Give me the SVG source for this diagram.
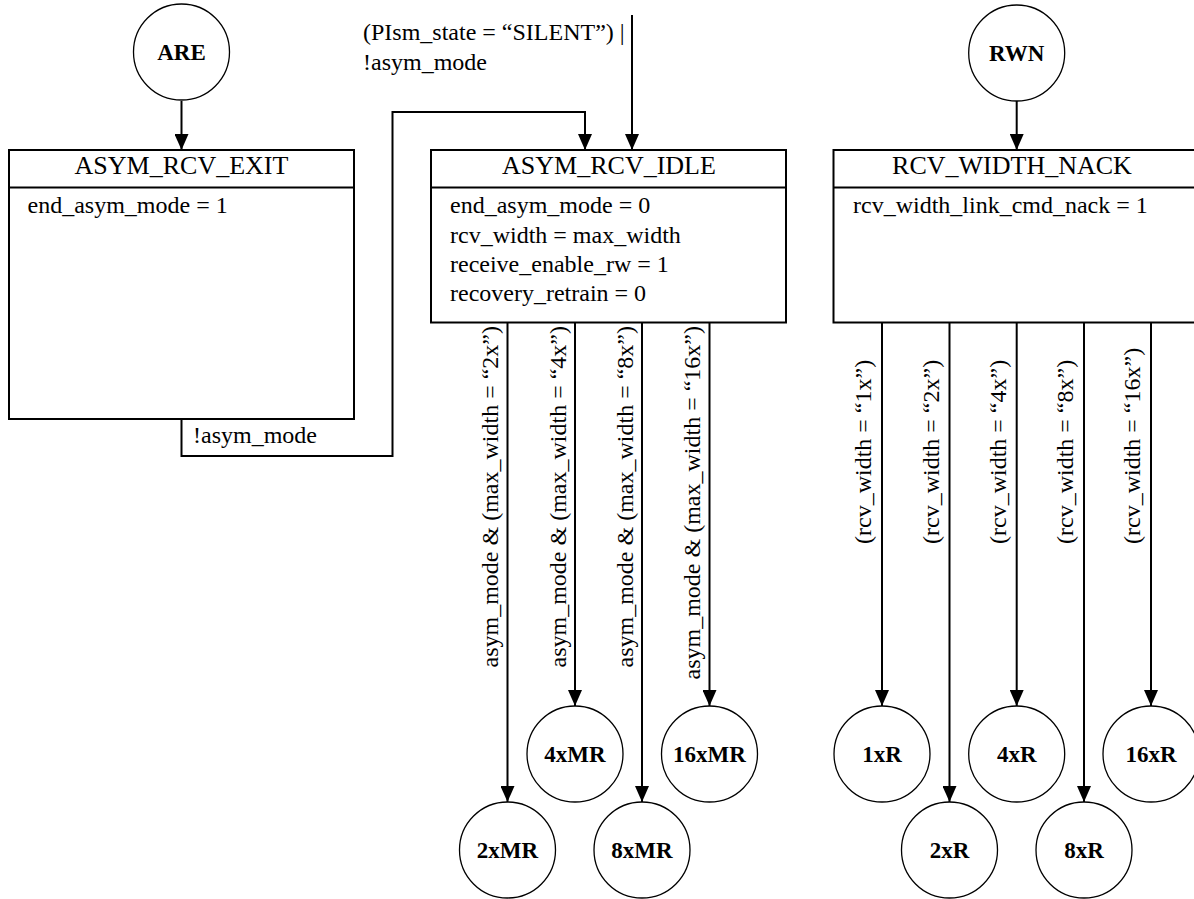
<svg xmlns="http://www.w3.org/2000/svg" width="1194" height="899" viewBox="0 0 1194 899">
  <style>
    .box { fill: #ffffff; stroke: #000000; stroke-width: 2; }
    .sep { stroke: #000000; stroke-width: 2; }
    .state { fill: #ffffff; stroke: #000000; stroke-width: 1.3; }
    .wire { fill: none; stroke: #000000; stroke-width: 2; }
    .arrow { marker-end: url(#head); }
    text { font-family: "Liberation Serif", "Times New Roman", serif; fill: #000000; }
    .title { font-size: 26px; text-anchor: middle; }
    .body { font-size: 24px; }
    .cond { font-size: 24px; }
    .upper { text-anchor: end; }
    .tag { font-size: 23px; font-weight: bold; text-anchor: middle; }
  </style>
  <defs>
    <marker id="head" viewBox="0 0 14 16" refX="7" refY="16" markerWidth="14" markerHeight="16" markerUnits="userSpaceOnUse" orient="0">
      <path d="M0,0 L14,0 L7,16 z" fill="#000000"/>
    </marker>
  </defs>

  <rect width="1194" height="899" fill="#ffffff"/>

  <!-- transitions -->
  <g id="connectors">
    <line class="wire arrow" x1="181.5" y1="101" x2="181.5" y2="150"/>
    <line class="wire arrow" x1="1016.7" y1="101" x2="1016.7" y2="150"/>
    <line class="wire arrow" x1="632" y1="15" x2="632" y2="150"/>
    <polyline class="wire arrow" points="181.5,419 181.5,456 392.5,456 392.5,112 585,112 585,150"/>

    <line class="wire arrow" x1="507.5" y1="323" x2="507.5" y2="802"/>
    <line class="wire arrow" x1="575" y1="323" x2="575" y2="706"/>
    <line class="wire arrow" x1="642" y1="323" x2="642" y2="802"/>
    <line class="wire arrow" x1="709.5" y1="323" x2="709.5" y2="706"/>

    <line class="wire arrow" x1="882" y1="323" x2="882" y2="706"/>
    <line class="wire arrow" x1="949.5" y1="323" x2="949.5" y2="802"/>
    <line class="wire arrow" x1="1016.7" y1="323" x2="1016.7" y2="706"/>
    <line class="wire arrow" x1="1084" y1="323" x2="1084" y2="802"/>
    <line class="wire arrow" x1="1151" y1="323" x2="1151" y2="706"/>

    <text class="body" x="363" y="40">(PIsm_state = “SILENT”) |</text>
    <text class="body" x="363" y="70">!asym_mode</text>
    <text class="body" x="193" y="443">!asym_mode</text>

    <text class="cond upper" transform="translate(498,326) rotate(-90)">asym_mode &amp; (max_width = “2x”)</text>
    <text class="cond upper" transform="translate(566,326) rotate(-90)">asym_mode &amp; (max_width = “4x”)</text>
    <text class="cond upper" transform="translate(633,326) rotate(-90)">asym_mode &amp; (max_width = “8x”)</text>
    <text class="cond upper" transform="translate(700,326) rotate(-90)">asym_mode &amp; (max_width = “16x”)</text>

    <text class="cond" transform="translate(871,544) rotate(-90)">(rcv_width = “1x”)</text>
    <text class="cond" transform="translate(938.5,544) rotate(-90)">(rcv_width = “2x”)</text>
    <text class="cond" transform="translate(1005.7,544) rotate(-90)">(rcv_width = “4x”)</text>
    <text class="cond" transform="translate(1073,544) rotate(-90)">(rcv_width = “8x”)</text>
    <text class="cond" transform="translate(1140,544) rotate(-90)">(rcv_width = “16x”)</text>
  </g>

  <!-- entry points -->
  <g id="are">
    <circle class="state" cx="181.5" cy="52" r="48"/>
    <text class="tag" x="181.5" y="60">ARE</text>
  </g>
  <g id="rwn">
    <circle class="state" cx="1016.7" cy="53" r="48"/>
    <text class="tag" x="1016.7" y="61">RWN</text>
  </g>

  <!-- states -->
  <g id="asym_rcv_exit">
    <rect class="box" x="9" y="150" width="345" height="269"/>
    <line class="sep" x1="9" y1="187.5" x2="354" y2="187.5"/>
    <text class="title" x="181.5" y="174">ASYM_RCV_EXIT</text>
    <text class="body" x="27.5" y="213">end_asym_mode = 1</text>
  </g>
  <g id="asym_rcv_idle">
    <rect class="box" x="431" y="150" width="355" height="172.5"/>
    <line class="sep" x1="431" y1="187.5" x2="786" y2="187.5"/>
    <text class="title" x="609" y="174">ASYM_RCV_IDLE</text>
    <text class="body" x="450" y="213">end_asym_mode = 0</text>
    <text class="body" x="450" y="242.5">rcv_width = max_width</text>
    <text class="body" x="450" y="272">receive_enable_rw = 1</text>
    <text class="body" x="450" y="301">recovery_retrain = 0</text>
  </g>
  <g id="rcv_width_nack">
    <rect class="box" x="833.5" y="150" width="365" height="172.5"/>
    <line class="sep" x1="833.5" y1="187.5" x2="1198.5" y2="187.5"/>
    <text class="title" x="1012" y="174">RCV_WIDTH_NACK</text>
    <text class="body" x="853" y="213">rcv_width_link_cmd_nack = 1</text>
  </g>

  <!-- targets -->
  <g id="t2xmr">
    <circle class="state" cx="507.5" cy="850" r="48"/>
    <text class="tag" x="507.5" y="858">2xMR</text>
  </g>
  <g id="t4xmr">
    <circle class="state" cx="575" cy="754" r="48"/>
    <text class="tag" x="575" y="762">4xMR</text>
  </g>
  <g id="t8xmr">
    <circle class="state" cx="642" cy="850" r="48"/>
    <text class="tag" x="642" y="858">8xMR</text>
  </g>
  <g id="t16xmr">
    <circle class="state" cx="709.5" cy="754" r="48"/>
    <text class="tag" x="709.5" y="762">16xMR</text>
  </g>
  <g id="t1xr">
    <circle class="state" cx="882" cy="754" r="48"/>
    <text class="tag" x="882" y="762">1xR</text>
  </g>
  <g id="t2xr">
    <circle class="state" cx="949.5" cy="850" r="48"/>
    <text class="tag" x="949.5" y="858">2xR</text>
  </g>
  <g id="t4xr">
    <circle class="state" cx="1016.7" cy="754" r="48"/>
    <text class="tag" x="1016.7" y="762">4xR</text>
  </g>
  <g id="t8xr">
    <circle class="state" cx="1084" cy="850" r="48"/>
    <text class="tag" x="1084" y="858">8xR</text>
  </g>
  <g id="t16xr">
    <circle class="state" cx="1151" cy="754" r="48"/>
    <text class="tag" x="1151" y="762">16xR</text>
  </g>
</svg>
